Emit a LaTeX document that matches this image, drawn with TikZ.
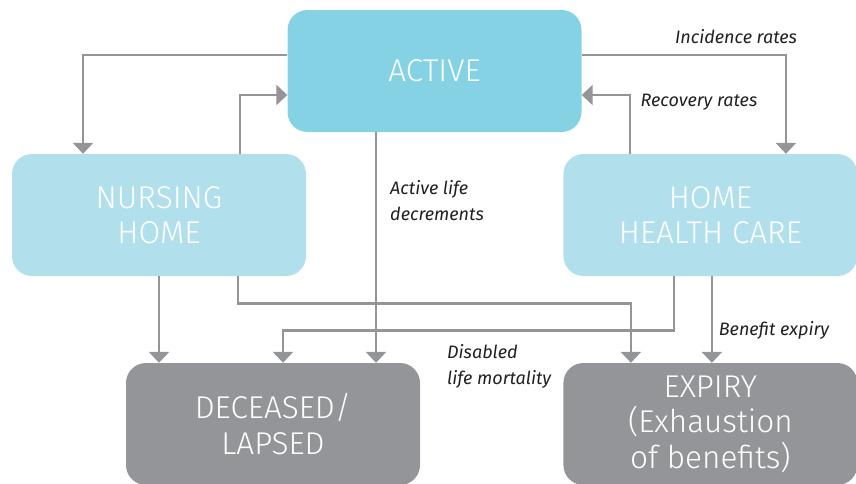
\documentclass[tikz,border=0pt]{standalone}
\usepackage{fontspec}
\setmainfont{Fira Sans}
\newfontfamily\lightfont{Fira Sans Light}
\usepackage{tikz}
\usetikzlibrary{positioning,arrows.meta}
\definecolor{activeblue}{HTML}{84D2E4}
\definecolor{careblue}{HTML}{B1E0EC}
\definecolor{exitgrey}{HTML}{939598}
\definecolor{labeltext}{HTML}{231F20}
\tikzstyle{statebox}=[rectangle, rounded corners=20pt, minimum width=294pt, minimum height=122pt, inner sep=0pt, text=white, align=center, font=\lightfont\fontsize{31.5}{35.5}\selectfont]
\tikzstyle{activebox}=[statebox, fill=activeblue]
\tikzstyle{carebox}=[statebox, fill=careblue]
\tikzstyle{exitbox}=[statebox, fill=exitgrey]
\tikzstyle{flow}=[draw=exitgrey, line width=2.7pt, -{Triangle[width=20pt,length=11pt]}]
\tikzstyle{rate}=[text=labeltext, inner sep=0pt, font=\itshape\fontsize{18}{26}\selectfont]

\begin{document}
\begin{tikzpicture}[x=1pt,y=-1pt]
        \useasboundingbox (0,0) rectangle (856,483);
        \clip (0,0) rectangle (856,483);
        \node(active)[activebox] at (434.5,71) {\raisebox{-2pt}{ACTIVE}};
        \node(nursing)[carebox] at (159,215) {NURSING\\HOME};
        \node(hhc)[carebox, right=257pt of nursing] {HOME\\HEALTH CARE};
        \node(deceased)[exitbox] at (273,424) {DECEASED/\\LAPSED};
        \node(expiry)[exitbox, right=143pt of deceased] {EXPIRY\\(Exhaustion\\of benefits)};

        % transitions out of and back to active
        \draw[flow] ([yshift=16pt]active.west) -| ([xshift=-76pt]nursing.north);
        \draw[flow] ([xshift=81pt]nursing.north) |- ([yshift=-24pt]active.west);
        \draw[flow] ([yshift=16pt]active.east) -| ([xshift=75.5pt]hhc.north);
        \draw[flow] ([xshift=-80.5pt]hhc.north) |- ([yshift=-24pt]active.east);

        % decrements
        \draw[flow] ([xshift=-58.5pt]active.south) -- ([xshift=103pt]deceased.north);
        \draw[flow] (nursing.south) -- ([xshift=-114pt]deceased.north);
        \draw[flow] ([xshift=79pt]nursing.south) -- ++(0,27) -| ([xshift=-79.5pt]expiry.north);
        \draw[flow] ([xshift=-36.5pt]hhc.south) -- ++(0,54) -| ([xshift=10pt]deceased.north);
        \draw[flow] ([xshift=1.5pt]hhc.south) -- ([xshift=1.5pt]expiry.north);

        \node(incidence)[rate] at (736,37) {Incidence rates};
        \node(recovery)[rate] at (699,102) {Recovery rates};
        \node(activelife)[rate, align=left, anchor=north west] at (390,180) {Active life\\decrements};
        \node(benefit)[rate] at (774,330) {Benefit expiry};
        \node(disabled)[rate, align=left, anchor=north west] at (447,344) {Disabled\\life mortality};
\end{tikzpicture}
\end{document}
